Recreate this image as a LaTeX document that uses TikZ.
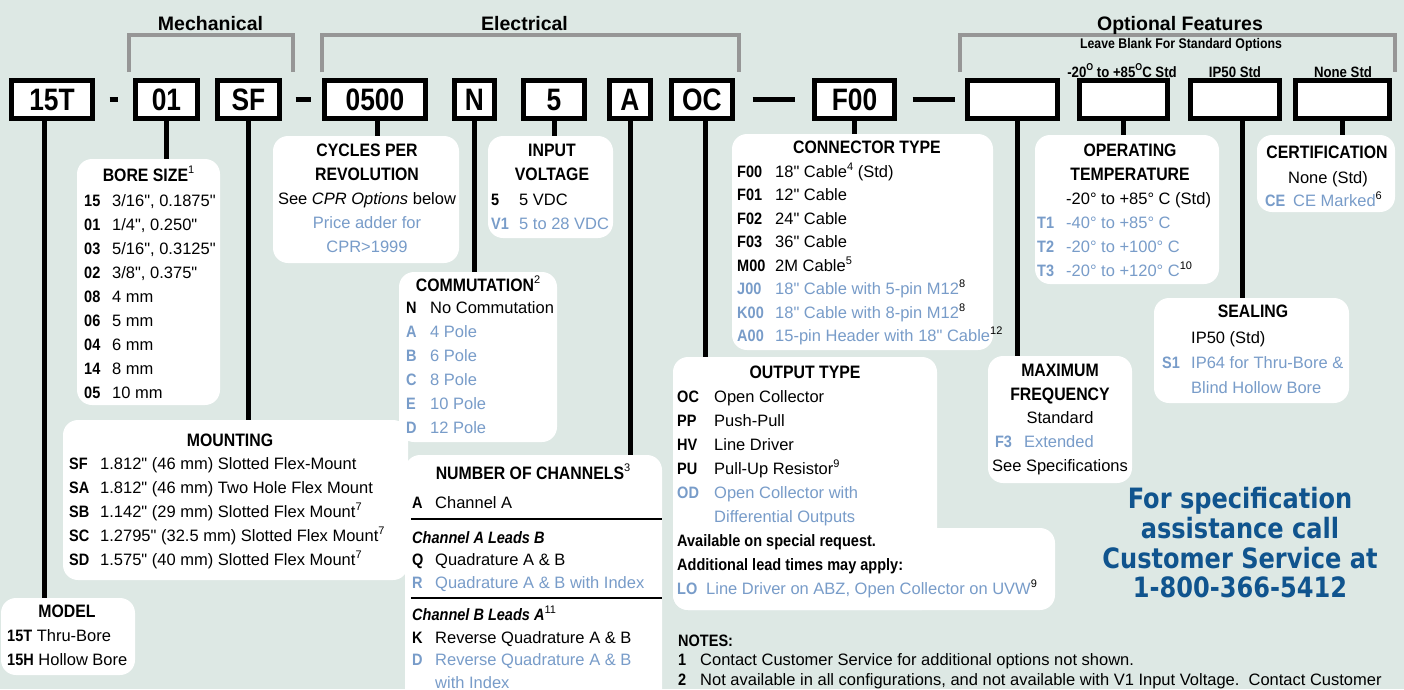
\documentclass[tikz,border=0pt]{standalone}
\usepackage{fontspec}
\usepackage{array}
\setmainfont{Liberation Sans}[Ligatures=TeXOff]
\newfontfamily\cnd{Liberation Sans}[FakeStretch=0.88,Ligatures=TeXOff]
\newfontfamily\boxfnt{Liberation Sans}[FakeStretch=0.85]
\newfontfamily\callfnt{DejaVu Sans}[FakeStretch=0.86]
\usetikzlibrary{positioning}
\definecolor{bgcol}{RGB}{221,232,228}
\definecolor{optblue}{RGB}{120,156,201}
\definecolor{brgrey}{RGB}{150,150,150}
\definecolor{callblue}{RGB}{16,84,142}
\newcommand{\cd}[1]{{\cnd\bfseries #1}}
\newcommand{\sups}[1]{\raisebox{0.42em}{\normalfont\color{black}\fontsize{11}{11}\selectfont #1}}
\newcommand{\supo}{\raisebox{0.42em}{\fontsize{10}{10}\selectfont O}}
\newcommand{\hd}{\cnd\bfseries\fontsize{18}{24}\selectfont}
\newcommand{\bl}{\color{optblue}}

\begin{document}
\begin{tikzpicture}[x=1pt,y=-1pt,
  codebox/.style={draw,line width=5pt,fill=white,minimum height=38pt,inner sep=0pt,
    font=\boxfnt\bfseries\fontsize{31}{31}\selectfont},
  infobox/.style={fill=white,rounded corners=15pt,inner sep=0pt},
  conn/.style={line width=5pt},
  bracket/.style={draw=brgrey,line width=4pt},
  grphd/.style={anchor=base,inner sep=0pt,font=\bfseries\fontsize{19.5}{19.5}\selectfont},
  stdlbl/.style={anchor=base,inner sep=0pt,font=\cnd\bfseries\fontsize{15}{15}\selectfont},
  hdtxt/.style={anchor=base,inner sep=0pt,font=\hd},
  ctxt/.style={anchor=base,inner sep=0pt,font=\fontsize{16.5}{#1}\selectfont},
  ctxt/.default=24,
  listtxt/.style={anchor=base west,inner sep=0pt,font=\fontsize{16.5}{#1}\selectfont},
  listtxt/.default=23.5]
\fill[bgcol] (0,0) rectangle (1404,689);
\useasboundingbox (0,0) rectangle (1404,689);
\clip (0,0) rectangle (1404,689);
% groups
\draw[bracket] (129,72) -- (129,35) -- (293,35) -- (293,72);
\draw[bracket] (322,72) -- (322,35) -- (739,35) -- (739,72);
\draw[bracket] (960,72) -- (960,35) -- (1395,35) -- (1395,72);
\node[grphd] (mech) at (210.5,30) {Mechanical};
\node[grphd] (elec) at (524.5,30) {Electrical};
\node[grphd] (optf) at (1180,30) {Optional Features};
\node[stdlbl,font=\cnd\bfseries\fontsize{14}{14}\selectfont] (leave) at (1181,48) {Leave Blank For Standard Options};
\node[stdlbl] (tstd) at (1122,77) {-20\supo{} to +85\supo C Std};
\node[stdlbl] (sstd) at (1235,77) {IP50 Std};
\node[stdlbl] (cstd) at (1343,77) {None Std};
% part number boxes
\node[codebox,minimum width=81] (c15T) at (52,99.5) {15T};
\node[codebox,minimum width=62] (c01) at (166.5,99.5) {01};
\node[codebox,minimum width=62] (cSF) at (248.5,99.5) {SF};
\node[codebox,minimum width=101] (c0500) at (375,99.5) {0500};
\node[codebox,minimum width=40] (cN) at (474.5,99.5) {N};
\node[codebox,minimum width=61] (c5) at (554,99.5) {5};
\node[codebox,minimum width=41] (cA) at (630,99.5) {A};
\node[codebox,minimum width=61] (cOC) at (702,99.5) {OC};
\node[codebox,minimum width=80] (cF00) at (854.5,99.5) {F00};
\node[codebox,minimum width=90] (cfreq) at (1012.5,99.5) {};
\node[codebox,minimum width=88] (ctemp) at (1123.5,99.5) {};
\node[codebox,minimum width=89] (cseal) at (1235,99.5) {};
\node[codebox,minimum width=94] (ccert) at (1342.5,99.5) {};
\draw[conn] ([xshift=14.5]c15T.east) -- ([xshift=-15.5]c01.west);
\draw[conn] ([xshift=13.5]cSF.east) -- ([xshift=-11.5]c0500.west);
\draw[conn] ([xshift=17.5]cOC.east) -- ([xshift=-17.5]cF00.west);
\draw[conn] ([xshift=15.5]cF00.east) -- ([xshift=-10.5]cfreq.west);
% option boxes
\node[infobox,minimum width=134,minimum height=77] (model) at (68,636.5) {};
\node[infobox,minimum width=143,minimum height=246] (bore) at (148.5,282) {};
\node[infobox,minimum width=345,minimum height=160] (mount) at (235.5,500) {};
\node[infobox,minimum width=186,minimum height=127] (cpr) at (366,199.5) {};
\node[infobox,minimum width=125,minimum height=102] (input) at (550.5,187) {};
\node[infobox,minimum width=158,minimum height=170] (comm) at (478,357) {};
\node[infobox,minimum width=257,minimum height=250] (chan) at (533.5,580) {};
\node[infobox,minimum width=261,minimum height=216] (contype) at (862.5,242) {};
\node[infobox,minimum width=264,minimum height=253] (outtype) at (805,483.5) {};
\node[infobox,minimum width=382,minimum height=82] (outlow) at (864,569) {};
\node[infobox,minimum width=144,minimum height=127] (maxf) at (1060,419.5) {};
\node[infobox,minimum width=184,minimum height=149] (temp) at (1127,209.5) {};
\node[infobox,minimum width=195,minimum height=105] (seal) at (1251.5,350.5) {};
\node[infobox,minimum width=138,minimum height=77] (cert) at (1326,173.5) {};
% leader lines
\draw[conn] ([xshift=-8]c15T.south) -- ([xshift=-8]c15T.south |- model.north);
\draw[conn] (c01.south) -- (c01.south |- bore.north);
\draw[conn] (cSF.south) -- (cSF.south |- mount.north);
\draw[conn] ([xshift=2]c0500.south) -- ([xshift=2]c0500.south |- cpr.north);
\draw[conn] (cN.south) -- (cN.south |- comm.north);
\draw[conn] (c5.south) -- (c5.south |- input.north);
\draw[conn] (cA.south) -- (cA.south |- chan.north);
\draw[conn] ([xshift=3]cOC.south) -- ([xshift=3]cOC.south |- outtype.north);
\draw[conn] (cF00.south) -- (cF00.south |- contype.north);
\draw[conn] ([xshift=5]cfreq.south) -- ([xshift=5]cfreq.south |- maxf.north);
\draw[conn] (ctemp.south) -- (ctemp.south |- temp.north);
\draw[conn] ([xshift=7]cseal.south) -- ([xshift=7]cseal.south |- seal.north);
\draw[conn] (ccert.south) -- (ccert.south |- cert.north);
% model
\node[hdtxt] (modelhd) at (67,617) {MODEL};
\node[listtxt=24] (modellst) at (7,641) {\begin{tabular}[t]{@{}l@{}}
  \cd{15T} Thru-Bore\\ \cd{15H} Hollow Bore\end{tabular}};
% bore size
\node[hdtxt] (borehd) at (148.5,181.4) {BORE SIZE\sups{1}};
\node[listtxt=24] (borelst) at (84,206) {\begin{tabular}[t]{@{}>{\cnd\bfseries}w{l}{28pt}@{}l@{}}
  15 & 3/16", 0.1875"\\ 01 & 1/4", 0.250"\\ 03 & 5/16", 0.3125"\\ 02 & 3/8", 0.375"\\
  08 & 4 mm\\ 06 & 5 mm\\ 04 & 6 mm\\ 14 & 8 mm\\ 05 & 10 mm\end{tabular}};
% mounting
\node[hdtxt] (mounthd) at (230,446.4) {MOUNTING};
\node[listtxt=24] (mountlst) at (69,469) {\begin{tabular}[t]{@{}>{\cnd\bfseries}w{l}{31pt}@{}l@{}}
  SF & 1.812" (46 mm) Slotted Flex-Mount\\
  SA & 1.812" (46 mm) Two Hole Flex Mount\\
  SB & 1.142" (29 mm) Slotted Flex Mount\sups{7}\\
  SC & 1.2795" (32.5 mm) Slotted Flex Mount\sups{7}\\
  SD & 1.575" (40 mm) Slotted Flex Mount\sups{7}\end{tabular}};
% cycles per revolution
\node[ctxt] (cprtxt) at (367,156.4) {\begin{tabular}[t]{@{}c@{}}
  \hd CYCLES PER\\ \hd REVOLUTION\\ See \textit{CPR Options} below\\
  \bl Price adder for\\ \bl CPR>1999\end{tabular}};
% input voltage
\node[ctxt] (inputhd) at (552,156.4) {\begin{tabular}[t]{@{}c@{}}\hd INPUT\\ \hd VOLTAGE\end{tabular}};
\node[listtxt=24] (inputlst) at (491,205) {\begin{tabular}[t]{@{}>{\cnd\bfseries}w{l}{28pt}@{}l@{}}
  5 & 5 VDC\\ \bl V1 & \bl 5 to 28 VDC\end{tabular}};
% commutation
\node[hdtxt] (commhd) at (478,291.4) {COMMUTATION\sups{2}};
\node[listtxt=24] (commlst) at (406,313) {\begin{tabular}[t]{@{}>{\cnd\bfseries}w{l}{24pt}@{}l@{}}
  N & No Commutation\\ \bl A & \bl 4 Pole\\ \bl B & \bl 6 Pole\\ \bl C & \bl 8 Pole\\
  \bl E & \bl 10 Pole\\ \bl D & \bl 12 Pole\end{tabular}};
% number of channels
\node[hdtxt] (chanhd) at (533,479.4) {NUMBER OF CHANNELS\sups{3}};
\node[listtxt=22.5] (chanlst) at (412,508) {\begin{tabular}[t]{@{}>{\cnd\bfseries}w{l}{23pt}@{}l@{}}
  A & Channel A\\[12.5pt]
  \multicolumn{2}{@{}l@{}}{\cnd\bfseries\itshape Channel A Leads B}\\
  Q & Quadrature A \& B\\
  \bl R & \bl Quadrature A \& B with Index\\[10pt]
  \multicolumn{2}{@{}l@{}}{\cnd\bfseries\itshape Channel B Leads A\sups{11}}\\
  K & Reverse Quadrature A \& B\\
  \bl D & \bl Reverse Quadrature A \& B\\
  & \bl with Index\end{tabular}};
\draw[line width=1.2pt] ([xshift=6]chan.west |- 0,519) -- (chan.east |- 0,519);
\draw[line width=1.2pt] ([xshift=6]chan.west |- 0,598) -- (chan.east |- 0,598);
% connector type
\node[hdtxt] (conhd) at (867,153.4) {CONNECTOR TYPE};
\node[listtxt] (conlst) at (737,177) {\begin{tabular}[t]{@{}>{\cnd\bfseries}w{l}{38pt}@{}l@{}}
  F00 & 18" Cable\sups{4} (Std)\\ F01 & 12" Cable\\ F02 & 24" Cable\\ F03 & 36" Cable\\
  M00 & 2M Cable\sups{5}\\
  \bl J00 & \bl 18" Cable with 5-pin M12\sups{8}\\
  \bl K00 & \bl 18" Cable with 8-pin M12\sups{8}\\
  \bl A00 & \bl 15-pin Header with 18" Cable\sups{12}\end{tabular}};
% output type
\node[hdtxt] (outhd) at (805,378.4) {OUTPUT TYPE};
\node[listtxt=24] (outlst) at (677,402) {\begin{tabular}[t]{@{}>{\cnd\bfseries}w{l}{37pt}@{}l@{}}
  OC & Open Collector\\ PP & Push-Pull\\ HV & Line Driver\\ PU & Pull-Up Resistor\sups{9}\\
  \bl OD & \bl Open Collector with\\ & \bl Differential Outputs\\
  \multicolumn{2}{@{}l@{}}{\cd{Available on special request.}}\\
  \multicolumn{2}{@{}l@{}}{\cd{Additional lead times may apply:}}\\
  \multicolumn{2}{@{}l@{}}{\bl\makebox[29pt][l]{\cd{LO}}Line Driver on ABZ, Open Collector on UVW\sups{9}}\end{tabular}};
% maximum frequency
\node[ctxt=23.7] (maxftxt) at (1060,376.4) {\begin{tabular}[t]{@{}c@{}}
  \hd MAXIMUM\\ \hd FREQUENCY\\ Standard\\
  \makebox[130pt][l]{\bl\makebox[29pt][l]{\cd{F3}}Extended}\\ See Specifications\end{tabular}};
% operating temperature
\node[ctxt] (temphd) at (1130,156.4) {\begin{tabular}[t]{@{}c@{}}\hd OPERATING\\ \hd TEMPERATURE\end{tabular}};
\node[listtxt=24] (templst) at (1037,204) {\begin{tabular}[t]{@{}>{\cnd\bfseries}w{l}{29pt}@{}l@{}}
  & -20° to +85° C (Std)\\ \bl T1 & \bl -40° to +85° C\\ \bl T2 & \bl -20° to +100° C\\
  \bl T3 & \bl -20° to +120° C\sups{10}\end{tabular}};
% sealing
\node[hdtxt] (sealhd) at (1253,317.4) {SEALING};
\node[listtxt=25] (seallst) at (1162,343) {\begin{tabular}[t]{@{}>{\cnd\bfseries}w{l}{29pt}@{}l@{}}
  & IP50 (Std)\\ \bl S1 & \bl IP64 for Thru-Bore \&\\ & \bl Blind Hollow Bore\end{tabular}};
% certification
\node[hdtxt] (certhd) at (1327,158.4) {CERTIFICATION};
\node[ctxt] (certstd) at (1328,183) {None (Std)};
\node[listtxt] (certlst) at (1265,206) {\bl\makebox[28pt][l]{\cd{CE}}CE Marked\sups{6}};
% call box text
\node[anchor=base,inner sep=0pt,font=\callfnt\bfseries\fontsize{28}{29.5}\selectfont,text=callblue] (call) at (1240,508)
  {\begin{tabular}[t]{@{}c@{}}For specification\\ assistance call\\ Customer Service at\\ 1-800-366-5412\end{tabular}};
% notes
\node[listtxt=19.5,font=\fontsize{16.5}{19.5}\selectfont] (notes) at (678,646) {\begin{tabular}[t]{@{}>{\cnd\bfseries}w{l}{22pt}@{}l@{}}
  \multicolumn{2}{@{}l@{}}{\cd{NOTES:}}\\
  1 & Contact Customer Service for additional options not shown.\\
  2 & Not available in all configurations, and not available with V1 Input Voltage.\ \ Contact Customer\end{tabular}};
\end{tikzpicture}
\end{document}
